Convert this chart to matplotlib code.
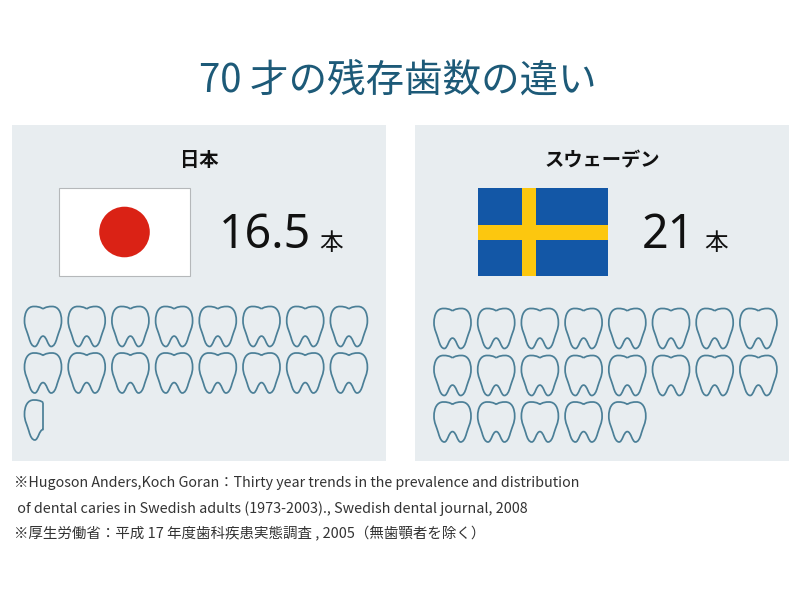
import math
import matplotlib
matplotlib.use("Agg")
import matplotlib.pyplot as plt
from matplotlib.patches import Rectangle, Circle, PathPatch
from matplotlib.path import Path
from matplotlib.transforms import Affine2D

plt.rcParams['font.family'] = ['Noto Sans CJK JP', 'DejaVu Sans']

title = "70 才の残存歯数の違い"
countries = ["日本", "スウェーデン"]
tooth_counts = [16.5, 21]
count_labels = ["16.5", "21"]
unit = "本"
notes = [
    "※Hugoson Anders,Koch Goran：Thirty year trends in the prevalence and distribution",
    " of dental caries in Swedish adults (1973-2003)., Swedish dental journal, 2008",
    "※厚生労働省：平成 17 年度歯科疾患実態調査 , 2005（無歯顎者を除く）",
]
note_sizes = [10.28, 10.35, 10.45]

PANEL = "#e8edf0"
TEAL = "#1d5a78"
LINE = "#4b7f97"

fig = plt.figure(figsize=(8, 5.9), dpi=100, facecolor="white")
ax = fig.add_axes([0, 0, 1, 1])
ax.set_xlim(0, 800)
ax.set_ylim(590, 0)
ax.axis("off")

# tooth outline in unit space: x -1..1, y 0..1
half = [((-0.15, 0.01), (-0.3, 0), (-0.5, 0)),
        ((-0.82, 0), (-1, 0.14), (-1, 0.36)),
        ((-1, 0.52), (-0.86, 0.62), (-0.76, 0.78)),
        ((-0.68, 0.92), (-0.58, 1), (-0.44, 1)),
        ((-0.26, 1), (-0.2, 0.74), (0, 0.74))]
start = (0, 0.06)

def tooth_path(whole=True):
    v, c = [start], [Path.MOVETO]
    for seg in half:
        v += list(seg); c += [Path.CURVE4] * 3
    if whole:
        pts = [start] + [p for seg in half for p in seg]
        for p in reversed(pts[:-1]):
            v.append((-p[0], p[1])); c.append(Path.CURVE4)
    else:
        v.append(start); c.append(Path.LINETO)
    return Path(v, c)

def draw_tooth(cx, top, whole=True):
    t = Affine2D().scale(18.5, 40).translate(cx, top) + ax.transData
    ax.add_patch(PathPatch(tooth_path(whole), transform=t, fc="none", ec=LINE,
                           lw=1.25, joinstyle="round"))

panel_x = [12, 415]
panel_w = 374
panel_y, panel_h = 125, 336
first_x = [43, 452.5]
step_x = [43.7, 43.7]
row_tops = [[306.5, 353, 400], [308.5, 355.5, 402]]
per_row = 8
num_x = [219, 642]
unit_x = [319, 704]

ax.text(398, 81, title, color=TEAL, fontsize=27.7, ha="center", va="center")

for i, (name, n, lab) in enumerate(zip(countries, tooth_counts, count_labels)):
    ax.add_patch(Rectangle((panel_x[i], panel_y), panel_w, panel_h, fc=PANEL, ec="none"))
    ax.text(panel_x[i] + panel_w / 2 + 0.5, 161, name, fontsize=13.9, weight="bold",
            ha="center", va="center", color="#111111")
    ax.text(num_x[i], 236, lab, fontsize=33.5, ha="left", va="center", color="#111111",
            family="Noto Sans")
    ax.text(unit_x[i], 243, unit, fontsize=17, ha="left", va="center", color="#111111")
    whole = math.floor(n)
    for k in range(whole):
        r, c = divmod(k, per_row)
        draw_tooth(first_x[i] + c * step_x[i], row_tops[i][r])
    if n > whole:
        r, c = divmod(whole, per_row)
        draw_tooth(first_x[i] + c * step_x[i], row_tops[i][r], whole=False)

# Japan flag
ax.add_patch(Rectangle((59, 188), 131, 88, fc="white", ec="#b5b8ba", lw=0.8))
ax.add_patch(Circle((124.5, 232), 25.3, fc="#da2215", ec="none"))
# Sweden flag
ax.add_patch(Rectangle((477.5, 188), 130.5, 88, fc="#1357a6", ec="none"))
ax.add_patch(Rectangle((522, 188), 14, 88, fc="#fcc70f", ec="none"))
ax.add_patch(Rectangle((477.5, 225), 130.5, 15, fc="#fcc70f", ec="none"))

for y, s, fs in zip([483, 509, 534], notes, note_sizes):
    ax.text(14, y, s, fontsize=fs, ha="left", va="center", color="#333333")

fig.savefig("out.png", dpi=100)
